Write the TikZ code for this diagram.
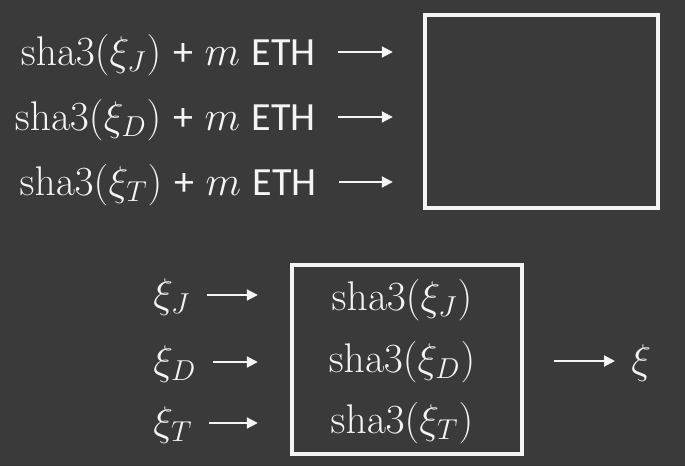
\documentclass[tikz,border=0pt]{standalone}
\usepackage[no-math]{fontspec}
\setmainfont{Carlito}
\usetikzlibrary{arrows.meta, positioning, calc}
\definecolor{slide}{HTML}{3A3A3A}
\definecolor{ink}{HTML}{F4F4F4}
\newcommand{\gap}{\hspace{0.29em}}

\begin{document}
\begin{tikzpicture}[
        x=0.5pt, y=-0.5pt,
        font=\fontsize{20}{24}\selectfont,
        text=ink,
        lbl/.style = {inner sep=0pt, anchor=base east},
        sym/.style = {inner sep=0pt, anchor=base west},
        hash/.style = {inner sep=0pt, anchor=base},
        frame/.style = {draw=ink, line width=2.2pt, inner sep=0pt},
        line/.style = {draw=ink, line width=1pt, -{Triangle[length=5.5pt, width=5.5pt]}}
    ]

    % Background
    \fill[slide] (0,0) rectangle (685,466);
    \useasboundingbox (0,0) rectangle (685,466);

    % Top: deposits
    \node [frame, minimum width=116.5pt, minimum height=96.5pt] (pool) at (541.5,111.5) {};
    \node [lbl] (depJ) at (316,65)  {$\mathrm{sha3}(\xi_J)$\gap+\gap$m$\gap ETH};
    \node [lbl] (depD) at (316,130) {$\mathrm{sha3}(\xi_D)$\gap+\gap$m$\gap ETH};
    \node [lbl] (depT) at (317,195) {$\mathrm{sha3}(\xi_T)$\gap+\gap$m$\gap ETH};

    % Bottom: reveal
    \node [frame, minimum width=115pt, minimum height=94.5pt] (reveal) at (407,359.5) {};
    \node [hash] (hashJ) at (402,310) {$\mathrm{sha3}(\xi_J)$};
    \node [hash] (hashD) at (402,372) {$\mathrm{sha3}(\xi_D)$};
    \node [hash] (hashT) at (402,433) {$\mathrm{sha3}(\xi_T)$};

    \node [sym] (secJ) at (153,307) {$\xi_J$};
    \node [sym] (secD) at (153,374) {$\xi_D$};
    \node [sym] (secT) at (153,435) {$\xi_T$};

    \node [sym] (seed) at (631,373) {$\xi$};

    % Edges
    \foreach \n in {J,D,T} {
        \path [line] ([xshift=11pt, yshift=6.5pt]dep\n.base east) -- ([xshift=-15pt, yshift=6.5pt]dep\n.base east -| pool.west);
        \path [line] ([xshift=8pt, yshift=6pt]sec\n.base east) -- ([xshift=-16pt, yshift=6pt]sec\n.base east -| reveal.west);
    }
    \path [line] ([xshift=15pt, yshift=6pt]seed.base west -| reveal.east) -- ([xshift=-8pt, yshift=6pt]seed.base west);

\end{tikzpicture}
\end{document}
